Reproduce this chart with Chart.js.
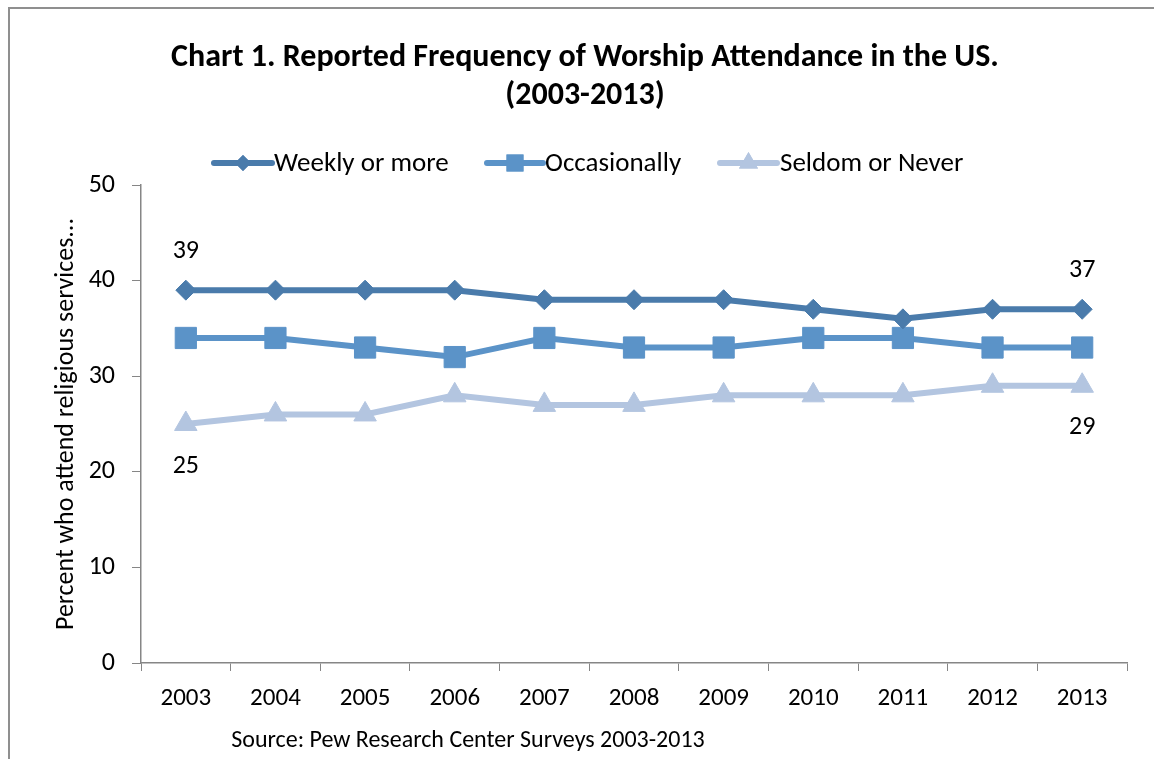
<!DOCTYPE html>
<html>
<head>
<meta charset="utf-8">
<script src="https://cdn.jsdelivr.net/npm/chart.js"></script>
<style>
  html, body { margin:0; padding:0; background:#fff; }
  canvas { display:block; }
</style>
</head>
<body>
<canvas id="chart" width="1154" height="759"></canvas>
<script>
// --- data ---
const years = ['2003','2004','2005','2006','2007','2008','2009','2010','2011','2012','2013'];
const weekly = [39, 39, 39, 39, 38, 38, 38, 37, 36, 37, 37];
const occasionally = [34, 34, 33, 32, 34, 33, 33, 34, 34, 33, 33];
const seldom = [25, 26, 26, 28, 27, 27, 28, 28, 28, 29, 29];
const seriesNames = ['Weekly or more', 'Occasionally', 'Seldom or Never'];
const titleLines = ['Chart 1. Reported Frequency of Worship Attendance in the US.', '(2003-2013)'];
const yTitle = 'Percent who attend religious services...';
const sourceNote = 'Source: Pew Research Center Surveys 2003-2013';

const FONT = "Carlito, Lato, 'Open Sans', sans-serif";
const AXIS = '#868686';
const colors = ['#4a7bab', '#5b93c8', '#b3c5e0'];

// outer frame (only top + left edges are visible in the crop)
const framePlugin = {
  id: 'frame',
  beforeDraw(chart) {
    const c = chart.ctx;
    c.save();
    c.strokeStyle = '#8f8f8f';
    c.lineWidth = 2;
    c.beginPath();
    c.moveTo(1154, 8); c.lineTo(9, 8); c.lineTo(9, 759);
    c.stroke();
    c.restore();
  }
};

// title, legend, source note
const textPlugin = {
  id: 'texts',
  afterDraw(chart) {
    const c = chart.ctx;
    c.save();
    c.fillStyle = '#000';
    c.textAlign = 'center';
    c.textBaseline = 'middle';
    c.font = 'bold 32px ' + FONT;
    c.fillText(titleLines[0], 585, 58);
    c.fillText(titleLines[1], 585, 96);

    // legend: line + marker, like the spreadsheet style
    const entries = [[214, 272, 274], [487, 543, 545], [720, 777, 780]];
    const markerR = [8, 12, 11];
    const ly = 163;
    chart.data.datasets.forEach((ds, i) => {
      const [x0, x1, tx] = entries[i];
      c.strokeStyle = ds.borderColor;
      c.lineWidth = 6;
      c.lineCap = 'round';
      c.beginPath(); c.moveTo(x0, ly); c.lineTo(x1, ly); c.stroke();
      c.fillStyle = ds.borderColor;
      Chart.helpers.drawPoint(c, {pointStyle: ds.pointStyle, radius: markerR[i], rotation: 0, borderWidth: 0}, (x0 + x1) / 2, ly);
      c.fill();
      c.fillStyle = '#000';
      c.textAlign = 'left';
      c.font = '27px ' + FONT;
      c.fillText(seriesNames[i], tx, ly + 1);
    });

    // end-point value labels
    c.textAlign = 'center';
    c.font = '26px ' + FONT;
    const labelOn = [{ds: 0, dy: -39}, {ds: 2, dy: 42}];
    labelOn.forEach(l => {
      const meta = chart.getDatasetMeta(l.ds);
      const vals = chart.data.datasets[l.ds].data;
      [0, vals.length - 1].forEach(k => {
        const p = meta.data[k];
        c.fillText(String(vals[k]), p.x, p.y + l.dy);
      });
    });

    c.font = '24px ' + FONT;
    c.fillText(sourceNote, 468, 741);
    c.restore();
  }
};

new Chart(document.getElementById('chart').getContext('2d'), {
  type: 'line',
  data: {
    labels: years,
    datasets: [
      {label: seriesNames[0], data: weekly, borderColor: colors[0], backgroundColor: colors[0],
       pointStyle: 'rectRot', pointRadius: 10},
      {label: seriesNames[1], data: occasionally, borderColor: colors[1], backgroundColor: colors[1],
       pointStyle: 'rect', pointRadius: 15},
      {label: seriesNames[2], data: seldom, borderColor: colors[2], backgroundColor: colors[2],
       pointStyle: 'triangle', pointRadius: 13}
    ].map(d => Object.assign(d, {borderWidth: 6, tension: 0, pointBorderWidth: 1, pointBorderColor: d.borderColor, pointBackgroundColor: d.borderColor, clip: false}))
  },
  options: {
    responsive: false,
    animation: false,
    devicePixelRatio: 1,
    layout: {padding: {top: 185, right: 27, left: 0, bottom: 0}},
    plugins: {legend: {display: false}, title: {display: false}, tooltip: {enabled: false}},
    scales: {
      x: {
        offset: true,
        grid: {offset: true, drawOnChartArea: false, drawTicks: true, tickLength: 8, color: AXIS},
        border: {color: AXIS, width: 1.5},
        ticks: {color: '#000', font: {family: FONT, size: 25}, padding: 13, maxRotation: 0},
        afterFit(s) { s.height = 96; }
      },
      y: {
        min: 0, max: 50,
        grid: {drawOnChartArea: false, drawTicks: true, tickLength: 9, color: AXIS},
        border: {color: AXIS, width: 1.5},
        ticks: {stepSize: 10, color: '#000', font: {family: FONT, size: 26}, padding: 17},
        title: {display: true, text: yTitle, color: '#000', font: {family: FONT, size: 26}, padding: {top: 51, bottom: 0}},
        afterFit(s) { s.width = 141; }
      }
    }
  },
  plugins: [framePlugin, textPlugin]
});
</script>
</body>
</html>
